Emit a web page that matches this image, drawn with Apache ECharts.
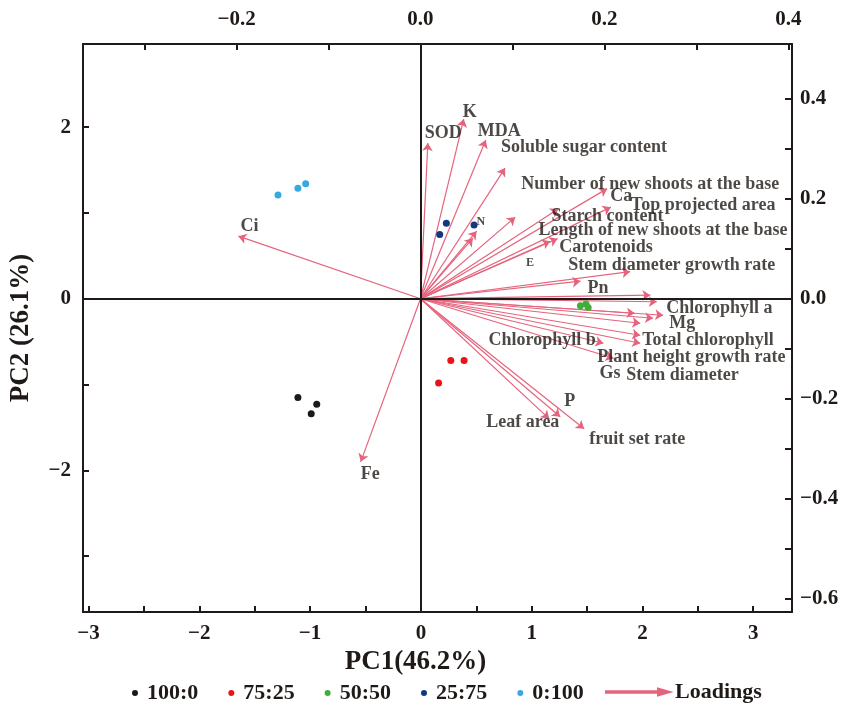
<!DOCTYPE html>
<html>
<head>
<meta charset="utf-8">
<title>PCA biplot</title>
<script src="https://cdn.jsdelivr.net/npm/echarts@6/dist/echarts.min.js"></script>
<style>
  html, body { margin: 0; padding: 0; background: #fff; }
  #chart { width: 848px; height: 728px; }
</style>
</head>
<body>
<div id="chart"></div>
<script>
// sample scores (PC1, PC2) by ratio group
const groupNames = ['100:0', '75:25', '50:50', '25:75', '0:100'];
const groupColors = ['#1a1a1a', '#e8141a', '#3fae3a', '#10397f', '#35a9e0'];
const scores100_0 = [[-1.11, -1.15], [-0.94, -1.23], [-0.99, -1.34]];
const scores75_25 = [[0.27, -0.72], [0.39, -0.72], [0.16, -0.98]];
const scores50_50 = [[1.44, -0.08], [1.49, -0.06], [1.51, -0.10]];
const scores25_75 = [[0.17, 0.75], [0.23, 0.88], [0.48, 0.86]];
const scores0_100 = [[-1.29, 1.21], [-1.11, 1.29], [-1.04, 1.34]];
const groupScores = [scores100_0, scores75_25, scores50_50, scores25_75, scores0_100];

// variable loadings (top / right axes)
const varNames = ['SOD', 'K', 'MDA', 'Soluble sugar content', 'Number of new shoots at the base',
  'Ca', 'Top projected area', 'Starch content', 'Length of new shoots at the base', 'Carotenoids',
  'N', 'E', 'Stem diameter growth rate', 'Pn', 'Chlorophyll a', 'Mg', 'Stem diameter',
  'Total chlorophyll', 'Plant height growth rate', 'Chlorophyll b', 'Gs',
  'P', 'Leaf area', 'fruit set rate', 'Ci', 'Fe', '', '', ''];
const loadPC1 = [0.008, 0.047, 0.071, 0.092, 0.103, 0.203, 0.207, 0.150, 0.149, 0.141,
  0.061, 0.057, 0.228, 0.174, 0.264, 0.253, 0.239, 0.239, 0.239, 0.199, 0.210,
  0.152, 0.140, 0.178, -0.198, -0.065, 0.250, 0.257, 0.233];
const loadPC2 = [0.311, 0.359, 0.317, 0.261, 0.163, 0.220, 0.183, 0.180, 0.120, 0.115,
  0.135, 0.121, 0.054, 0.035, -0.033, -0.039, -0.049, -0.073, -0.089, -0.089, -0.119,
  -0.236, -0.240, -0.260, 0.125, -0.326, 0.007, -0.006, -0.029];

// label nudges in px from the arrow tip (left edge, vertical middle)
const labelNudge = {
  'SOD': [-3, -10], 'K': [-1, -7], 'MDA': [-8, -9], 'Soluble sugar content': [-4, -21],
  'Number of new shoots at the base': [6, -33], 'Ca': [3, 8], 'Top projected area': [20, -2],
  'Starch content': [-7, 8], 'Length of new shoots at the base': [-19, -8], 'Carotenoids': [9, 6],
  'N': [0, -9], 'E': [53, 25], 'Stem diameter growth rate': [-62, -6], 'Pn': [7, 7],
  'Chlorophyll a': [3, -7], 'Mg': [16, 5], 'Stem diameter': [-14, 52], 'Total chlorophyll': [2, 5],
  'Plant height growth rate': [-43, 14], 'Chlorophyll b': [-115, -3], 'Gs': [-14, 15],
  'P': [4, -15], 'Leaf area': [-63, 4], 'fruit set rate': [5, 11], 'Ci': [2, -10], 'Fe': [0, 12]
};
const smallLabels = ['N', 'E'];

const FONT = '"Liberation Serif", "Times New Roman", serif';
const INK = '#1f1a17';
const ARROW = '#e5647d';

const fmtInt = v => (v < 0 ? '\u2212' : '') + Math.abs(v);
const fmtDec = v => (v < 0 ? '\u2212' : '') + Math.abs(v).toFixed(1);

const myChart = echarts.init(document.getElementById('chart'));

const axisLine = {show: true, onZero: false, lineStyle: {color: INK, width: 2}};
const tickStyle = {color: INK, width: 2};
const labelStyle = {color: INK, fontFamily: FONT, fontWeight: 'bold', fontSize: 21};

const arrowData = [];
const tipData = [];
varNames.forEach((name, i) => {
  arrowData.push({coords: [[0, 0], [loadPC1[i], loadPC2[i]]]});
  if (name) {
    const small = smallLabels.indexOf(name) >= 0;
    const nudge = labelNudge[name] || [0, 0];
    tipData.push({
      name,
      value: [loadPC1[i], loadPC2[i]],
      label: {position: [nudge[0] + 0.5, nudge[1] + 0.5], fontSize: small ? 12 : 18}
    });
  }
});

const scoreSeries = groupNames.map((g, i) => ({
  name: g,
  type: 'scatter',
  xAxisIndex: 0,
  yAxisIndex: 0,
  symbolSize: 7,
  z: 5,
  itemStyle: {color: groupColors[i], opacity: 1},
  data: groupScores[i]
}));

// zero lines through the origin
scoreSeries[0].markLine = {
  silent: true,
  symbol: 'none',
  label: {show: false},
  lineStyle: {color: INK, width: 2, type: 'solid'},
  data: [{xAxis: 0}, {yAxis: 0}]
};

const option = {
  backgroundColor: '#fff',
  animation: false,
  grid: {left: 82, top: 44, width: 710, height: 568},
  legend: [
    {
      data: groupNames,
      left: 127,
      top: 677,
      icon: 'circle',
      itemWidth: 14,
      itemHeight: 6,
      itemGap: 30,
      textStyle: {color: INK, fontFamily: FONT, fontWeight: 'bold', fontSize: 22}
    },
    {
      data: [{name: 'Loadings', itemStyle: {color: ARROW}}],
      left: 600,
      top: 676,
      icon: 'path://M0,4.3 H52 V1.5 L64,5 L52,8.5 V5.7 H0 Z',
      itemWidth: 64,
      itemHeight: 10,
      itemGap: 10,
      textStyle: {color: INK, fontFamily: FONT, fontWeight: 'bold', fontSize: 22}
    }
  ],
  xAxis: [
    {
      type: 'value',
      position: 'bottom',
      min: -3.05,
      max: 3.35,
      name: 'PC1(46.2%)',
      nameLocation: 'middle',
      nameGap: 36,
      nameTextStyle: {color: INK, fontFamily: FONT, fontWeight: 'bold', fontSize: 27, padding: [0, 44, 0, 0]},
      axisLine,
      axisTick: {inside: true, length: 6, lineStyle: tickStyle,
        customValues: [-3, -2.5, -2, -1.5, -1, -0.5, 0, 0.5, 1, 1.5, 2, 2.5, 3]},
      axisLabel: Object.assign({margin: 11, formatter: fmtInt,
        customValues: [-3, -2, -1, 0, 1, 2, 3]}, labelStyle),
      splitLine: {show: false}
    },
    {
      type: 'value',
      position: 'top',
      min: -0.367,
      max: 0.404,
      axisLine,
      axisTick: {inside: true, length: 6, lineStyle: tickStyle,
        customValues: [-0.3, -0.2, -0.1, 0, 0.1, 0.2, 0.3, 0.4]},
      axisLabel: Object.assign({margin: 14, formatter: fmtDec,
        customValues: [-0.2, 0, 0.2, 0.4]}, labelStyle),
      splitLine: {show: false}
    }
  ],
  yAxis: [
    {
      type: 'value',
      position: 'left',
      min: -3.65,
      max: 2.97,
      name: 'PC2 (26.1%)',
      nameLocation: 'middle',
      nameGap: 48,
      nameTextStyle: {color: INK, fontFamily: FONT, fontWeight: 'bold', fontSize: 27},
      axisLine,
      axisTick: {inside: true, length: 6, lineStyle: tickStyle,
        customValues: [-3, -2, -1, 0, 1, 2]},
      axisLabel: Object.assign({margin: 12, formatter: fmtInt,
        customValues: [-2, 0, 2]}, labelStyle),
      splitLine: {show: false}
    },
    {
      type: 'value',
      position: 'right',
      min: -0.626,
      max: 0.509,
      axisLine,
      axisTick: {inside: true, length: 7, lineStyle: tickStyle,
        customValues: [-0.6, -0.5, -0.4, -0.3, -0.2, -0.1, 0, 0.1, 0.2, 0.3, 0.4]},
      axisLabel: Object.assign({margin: 8, formatter: fmtDec,
        customValues: [-0.6, -0.4, -0.2, 0, 0.2, 0.4]}, labelStyle),
      splitLine: {show: false}
    }
  ],
  series: scoreSeries.concat([
    {
      name: 'Loadings',
      type: 'lines',
      coordinateSystem: 'cartesian2d',
      xAxisIndex: 1,
      yAxisIndex: 1,
      z: 3,
      symbol: ['none', 'arrow'],
      symbolSize: 8,
      lineStyle: {color: ARROW, width: 1.2, opacity: 1},
      data: arrowData
    },
    {
      name: 'varLabels',
      type: 'scatter',
      xAxisIndex: 1,
      yAxisIndex: 1,
      z: 6,
      symbolSize: 1,
      silent: true,
      itemStyle: {color: 'transparent'},
      label: {
        show: true,
        align: 'left',
        verticalAlign: 'middle',
        formatter: '{b}',
        color: INK,
        fontFamily: FONT,
        fontWeight: 'bold',
        fontSize: 18
      },
      labelLayout: {hideOverlap: false},
      data: tipData
    }
  ])
};

myChart.setOption(option);
</script>
</body>
</html>
